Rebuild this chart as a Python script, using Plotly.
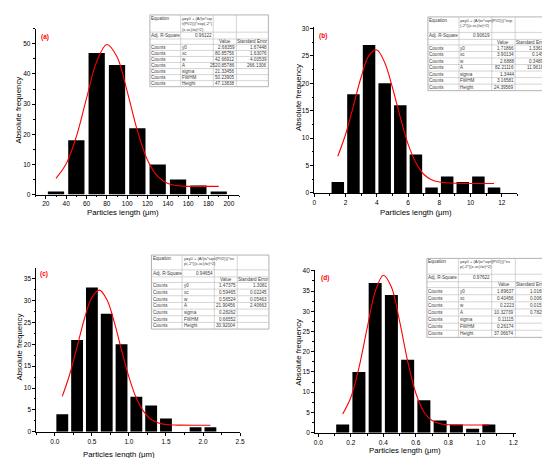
import plotly.graph_objects as go

W, H = 550, 458

# ---- data ----
# (a)
bins_a = [30, 50, 70, 90, 110, 130, 150, 170, 190]
counts_a = [1, 18, 47, 43, 22, 10, 5, 3, 1]
fit_a_x = [30, 40, 50, 60, 70, 80, 90, 100, 110, 120, 130, 140, 150, 160, 170, 180, 190]
fit_a_y = [5.4, 10.2, 19.2, 31.9, 44.1, 49.8, 45.7, 34.2, 21.2, 11.4, 6.0, 3.7, 2.9, 2.7, 2.7, 2.7, 2.7]

# (b)
bins_b = [1.5, 2.5, 3.5, 4.5, 5.5, 6.5, 7.5, 8.5, 9.5, 10.5, 11.5]
counts_b = [2, 18, 27, 20, 16, 7, 1, 3, 2, 3, 1]
fit_b_x = [1.5, 2, 2.5, 3, 3.5, 4, 4.5, 5, 5.5, 6, 6.5, 7, 7.5, 8, 9, 10, 11.5]
fit_b_y = [6.7, 10.7, 15.9, 21.2, 25.1, 26.1, 23.8, 19.2, 13.8, 8.9, 5.5, 3.4, 2.4, 2.0, 1.75, 1.72, 1.72]

# (c)
bins_c = [0.1, 0.3, 0.5, 0.7, 0.9, 1.1, 1.3, 1.5, 1.7, 1.9, 2.1]
counts_c = [4, 21, 33, 27, 20, 8, 6, 3, 0, 1, 1]
fit_c_x = [0.1, 0.2, 0.3, 0.4, 0.5, 0.6, 0.7, 0.8, 0.9, 1.0, 1.1, 1.2, 1.3, 1.4, 1.5, 1.7, 1.9, 2.1]
fit_c_y = [8.1, 13.1, 19.4, 25.9, 30.7, 32.4, 30.3, 25.2, 18.7, 12.5, 7.7, 4.6, 2.8, 2.0, 1.65, 1.5, 1.47, 1.47]

# (d)
bins_d = [0.15, 0.25, 0.35, 0.45, 0.55, 0.65, 0.75, 0.85, 0.95, 1.05]
counts_d = [2, 15, 37, 34, 18, 8, 3, 2, 1, 2]
fit_d_x = [0.15, 0.2, 0.25, 0.3, 0.35, 0.4, 0.45, 0.5, 0.55, 0.6, 0.65, 0.7, 0.75, 0.8, 0.9, 1.05]
fit_d_y = [4.6, 8.7, 16.0, 25.7, 34.8, 38.9, 36.0, 27.6, 17.7, 9.8, 5.1, 3.0, 2.2, 1.97, 1.9, 1.9]

# fit report tables
param_names = ["y0", "xc", "w", "A", "sigma", "FWHM", "Height"]
eq_a = "y=y0 + (A/(w*sqr<br>t(PI/2)))*exp(-2*(<br>(x-xc)/w)^2)"
eq_b = "y=y0 + (A/(w*sqrt(PI/2)))*exp<br>(-2*((x-xc)/w)^2)"
eq_c = "y=y0 + (A/(w*sqrt(PI/2)))*ex<br>p(-2*((x-xc)/w)^2)"
eq_d = "y=y0 + (A/(w*sqrt(PI/2)))*ex<br>p(-2*((x-xc)/w)^2)"
r2_a, r2_b, r2_c, r2_d = "0.96122", "0.90619", "0.94654", "0.97622"
val_a = ["2.68359", "80.85756", "42.66912", "2520.85786", "21.33456", "50.23905", "47.13838"]
err_a = ["1.67448", "1.63076", "4.00539", "266.1306"]
val_b = ["1.71866", "3.90134", "2.6888", "82.21116", "1.3444", "3.16581", "24.39569"]
err_b = ["1.33612", "0.1458", "0.34894", "11.96167"]
val_c = ["1.47375", "0.59465", "0.56524", "21.90456", "0.28262", "0.66552", "30.92004"]
err_c = ["1.3081", "0.02245", "0.05463", "2.40663"]
val_d = ["1.89637", "0.40456", "0.2223", "10.32739", "0.11115", "0.26174", "37.06674"]
err_d = ["1.01691", "0.00635", "0.01519", "0.78251"]

x_title = "Particles length (μm)"
y_title = "Absolute frequency"

panels = [
    dict(tag="(a)", bins=bins_a, counts=counts_a, fx=fit_a_x, fy=fit_a_y, bw=20,
         xdom=(26, 232), ydom=(18, 186), xr=[10, 210], yr=[0, 55], xd=20, yd=10, xfmt="",
         tagpos=(31.5, 26), xt=(114.7, 204), yt=(9, 100), eqf=0.24,
         tbl=(141.7, 261.7, 4, 76.7), eq=eq_a, r2=r2_a, val=val_a, err=err_a),
    dict(tag="(b)", bins=bins_b, counts=counts_b, fx=fit_b_x, fy=fit_b_y, bw=1,
         xdom=(308.3, 514), ydom=(16.7, 184.3), xr=[0, 13], yr=[0, 30.2], xd=2, yd=5, xfmt="",
         tagpos=(312.5, 25), xt=(411.7, 204.3), yt=(292.3, 87.5), eqf=0.21,
         tbl=(423.3, 544.3, 6, 80.7), eq=eq_b, r2=r2_b, val=val_b, err=err_b),
    dict(tag="(c)", bins=bins_c, counts=counts_c, fx=fit_c_x, fy=fit_c_y, bw=0.2,
         xdom=(26.7, 233), ydom=(260.7, 426.3), xr=[-0.25, 2.5], yr=[0, 37.4], xd=0.5, yd=5, xfmt=".1f",
         tagpos=(30.5, 266.7), xt=(110, 449.5), yt=(9.3, 340.7), eqf=0.2,
         tbl=(143.3, 262.3, 247.3, 322.3), eq=eq_c, r2=r2_c, val=val_c, err=err_c),
    dict(tag="(d)", bins=bins_d, counts=counts_d, fx=fit_d_x, fy=fit_d_y, bw=0.1,
         xdom=(309, 513), ydom=(262, 427.3), xr=[-0.02, 1.22], yr=[0, 40.3], xd=0.2, yd=5, xfmt=".1f",
         tagpos=(315, 270.7), xt=(400, 445), yt=(292.3, 345.7), eqf=0.2,
         tbl=(422.3, 545, 250.7, 330.7), eq=eq_d, r2=r2_d, val=val_d, err=err_d),
]

FONT = "Liberation Sans, Arial, sans-serif"
fig = go.Figure()


def txt(x, y, s, xanchor="left", yanchor="middle", size=4.6, color="#404040",
        bold=False, angle=0):
    fig.add_annotation(x=x / W, y=1 - y / H, xref="paper", yref="paper", text=s,
                       showarrow=False, xanchor=xanchor, yanchor=yanchor, align="left",
                       borderpad=0, borderwidth=0, textangle=angle,
                       font=dict(size=size, color=color, family=FONT,
                                 weight="bold" if bold else "normal"))


def hline(xa, xb, y, color="#b8b8b8"):
    fig.add_shape(type="line", xref="paper", yref="paper", x0=xa / W, x1=xb / W,
                  y0=1 - y / H, y1=1 - y / H, line=dict(color=color, width=0.6))


def vline(x, ya, yb, color="#b8b8b8"):
    fig.add_shape(type="line", xref="paper", yref="paper", x0=x / W, x1=x / W,
                  y0=1 - ya / H, y1=1 - yb / H, line=dict(color=color, width=0.6))


def add_table(p):
    x0, x1, y0, y1 = p["tbl"]
    cols = [x0 + f * (x1 - x0) for f in [0, 0.26, 0.535, 0.73, 1]]
    hh = y1 - y0
    e = p["eqf"]
    rows = [y0, y0 + e * hh, y0 + (e + 0.095) * hh, y0 + (e + 0.17) * hh]
    rest = 1 - (e + 0.17)
    rows += [y0 + (e + 0.17 + rest * (i + 1) / 7) * hh for i in range(7)]
    fig.add_shape(type="rect", xref="paper", yref="paper", x0=x0 / W, x1=x1 / W,
                  y0=1 - y0 / H, y1=1 - y1 / H, fillcolor="white",
                  line=dict(color="#a0a0a0", width=0.8))
    for r in rows[1:-1]:
        hline(x0, x1, r)
    for c in cols[1:-1]:
        vline(c, y0, y1)
    pad = 1.5
    txt(cols[0] + pad, rows[0] + 0.8, "Equation", yanchor="top")
    txt(cols[1] + pad, rows[0] + 0.6, p["eq"], yanchor="top", size=4.1)
    mid = lambda i: (rows[i] + rows[i + 1]) / 2
    txt(cols[0] + pad, mid(1), "Adj. R-Square")
    txt(cols[2] - pad, mid(1), p["r2"], xanchor="right")
    txt((cols[2] + cols[3]) / 2, mid(2), "Value", xanchor="center")
    txt((cols[3] + cols[4]) / 2, mid(2), "Standard Error", xanchor="center")
    for i, name in enumerate(param_names):
        r = mid(3 + i)
        txt(cols[0] + pad, r, "Counts")
        txt(cols[1] + pad, r, name)
        txt(cols[3] - pad, r, p["val"][i], xanchor="right")
        if i < len(p["err"]):
            txt(cols[4] - pad, r, p["err"][i], xanchor="right")


for k, p in enumerate(panels, start=1):
    sx = "" if k == 1 else str(k)
    fig.add_trace(go.Bar(x=p["bins"], y=p["counts"], width=0.8 * p["bw"],
                         marker=dict(color="black", line=dict(width=0)),
                         xaxis="x" + sx, yaxis="y" + sx))
    fig.add_trace(go.Scatter(x=p["fx"], y=p["fy"], mode="lines",
                             line=dict(color="red", width=1.1, shape="spline"),
                             xaxis="x" + sx, yaxis="y" + sx))
    common = dict(showline=True, linecolor="black", linewidth=1, ticks="outside",
                  ticklen=3, tickwidth=0.8, tickcolor="black", showgrid=False,
                  zeroline=False, tickfont=dict(size=6.5, color="black", family=FONT))
    fig.layout["xaxis" + sx] = dict(
        common, domain=[p["xdom"][0] / W, p["xdom"][1] / W], range=p["xr"],
        anchor="y" + sx, tickmode="linear", tick0=0, dtick=p["xd"], tickformat=p["xfmt"],
        minor=dict(ticks="outside", ticklen=1.8, tickcolor="black", dtick=p["xd"] / 2, tick0=0))
    fig.layout["yaxis" + sx] = dict(
        common, domain=[1 - p["ydom"][1] / H, 1 - p["ydom"][0] / H], range=p["yr"],
        anchor="x" + sx, tickmode="linear", tick0=0, dtick=p["yd"],
        minor=dict(ticks="outside", ticklen=1.8, tickcolor="black", dtick=p["yd"] / 2, tick0=0))
    txt(p["xt"][0], p["xt"][1], x_title, xanchor="center", size=7.8, color="black")
    txt(p["yt"][0], p["yt"][1], y_title, xanchor="center", size=7.8, color="black", angle=-90)
    txt(p["tagpos"][0], p["tagpos"][1], p["tag"], size=6.5, color="red", bold=True)
    add_table(p)

fig.update_layout(width=W, height=H, margin=dict(l=0, r=0, t=0, b=0),
                  showlegend=False, plot_bgcolor="white", paper_bgcolor="white",
                  font=dict(family=FONT))

fig.write_html("out.html")
